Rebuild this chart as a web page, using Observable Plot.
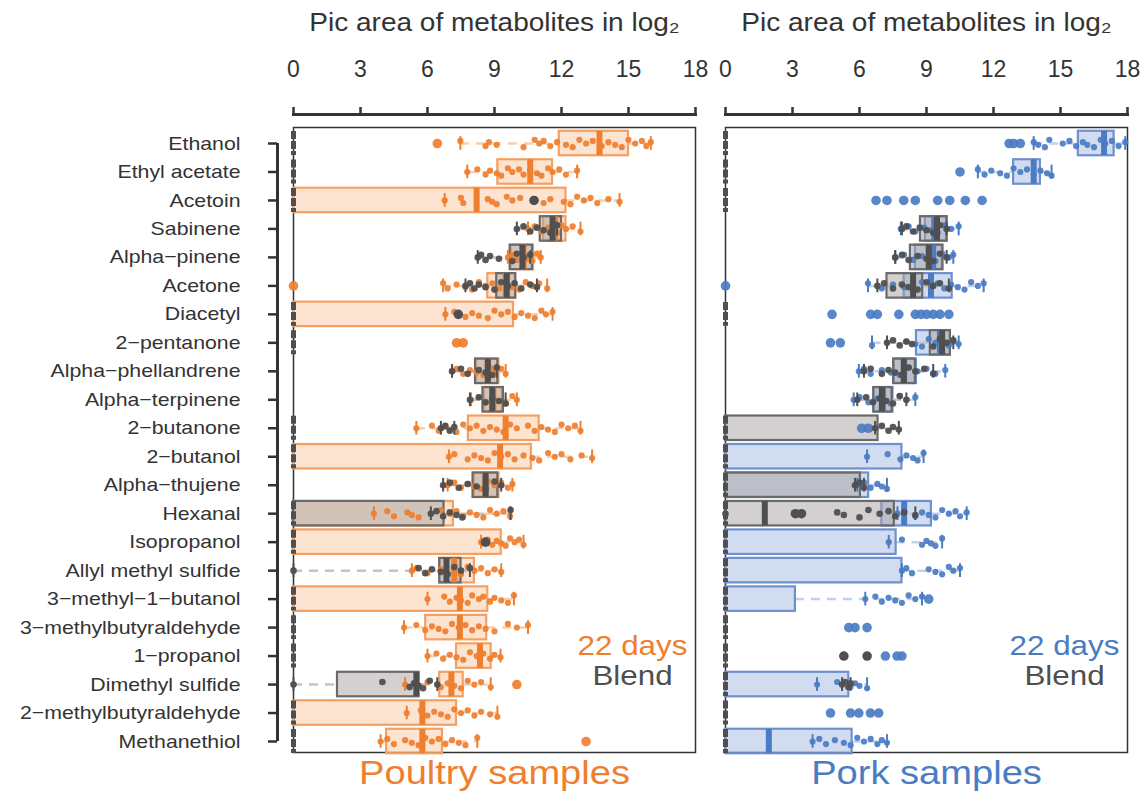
<!DOCTYPE html>
<html><head><meta charset="utf-8">
<script src="https://cdn.jsdelivr.net/npm/d3@7"></script>
<script src="https://cdn.jsdelivr.net/npm/@observablehq/plot@0.6"></script>
<style>
html,body{margin:0;padding:0;background:#fff;}
#wrap{position:relative;width:1145px;height:796px;overflow:hidden;}
#left{position:absolute;left:0;top:0;}
#right{position:absolute;left:710px;top:0;}
</style></head><body>
<div id="wrap"><div id="left"></div><div id="right"></div></div>
<script>
const metabolites = ["Ethanol","Ethyl acetate","Acetoin","Sabinene","Alpha\u2212pinene","Acetone","Diacetyl","2\u2212pentanone","Alpha\u2212phellandrene","Alpha\u2212terpinene","2\u2212butanone","2\u2212butanol","Alpha\u2212thujene","Hexanal","Isopropanol","Allyl methyl sulfide","3\u2212methyl\u22121\u2212butanol","3\u2212methylbutyraldehyde","1\u2212propanol","Dimethyl sulfide","2\u2212methylbutyraldehyde","Methanethiol"];
const xTicks = [0, 3, 6, 9, 12, 15, 18];
const axisTitle = "Pic area of metabolites in log\u2082";
const groupLabels = ["22 days", "Blend"];
const panelLabels = ["Poultry samples", "Pork samples"];

// Poultry, 22 days (box stats)
const poultryDaysQ1  = [11.9, 9.15, 0, 11.2, 9.75, 8.7, 0, null, 8.2, 8.55, 7.83, 0, 8.1, 0, 0, 6.55, 0, 5.92, 7.3, 6.55, 0, 4.17];
const poultryDaysMed = [13.7, 10.6, 8.2, 11.7, 10.3, 9.5, null, null, 8.7, 8.95, 9.5, 9.25, 8.6, null, null, 7.2, 7.45, 7.45, 8.35, 7.07, 5.77, 5.77];
const poultryDaysQ3  = [15.0, 11.6, 12.2, 12.2, 10.75, 9.95, 9.85, null, 9.2, 9.35, 11.0, 10.65, 9.2, 7.16, 9.3, 8.1, 8.7, 8.65, 8.85, 7.6, 7.3, 6.67];
// Poultry, Blend
const poultryBlendQ1  = [null, null, null, 11.05, 9.7, 9.1, null, null, 8.15, 8.48, null, null, 8.04, 0, null, 6.55, null, null, null, 1.97, null, null];
const poultryBlendMed = [null, null, null, 11.6, 10.25, 9.55, null, null, 8.7, 8.9, null, null, 8.6, null, null, 6.85, null, null, null, 5.5, null, null];
const poultryBlendQ3  = [null, null, null, 12.0, 10.7, 9.95, null, null, 9.15, 9.4, null, null, 9.15, 6.74, null, 7.5, null, null, null, 5.62, null, null];
// Poultry points ("*" = large marker)
const poultryDaysPts = [
 "6.44* 7.47 8.6 8.75 9.1 10.3 10.8 11.0 11.2 11.5 11.8 12.2 12.5 12.8 13.1 13.4 13.8 14.1 14.4 14.7 15.0 15.3 15.6 15.8 16.0",
 "7.78 8.23 8.6 8.8 9.1 9.3 9.6 9.8 10.1 10.3 10.6 10.9 11.1 11.4 11.6 11.9 12.2 12.7",
 "6.77 7.5 7.6 8.7 8.9 9.1 9.55 9.8 10.15 11.2 11.5 12.1 12.4 12.7 13.0 13.3 13.6 14.1 14.6",
 "10.5 10.8 11.1 11.4 11.6 11.8 12.0 12.2 12.5 12.85",
 "9.6 9.8 10.0 10.3 10.5 10.7 10.9 11.07",
 "0* 6.7 6.9 7.3 7.7 8.0 8.3 8.6 8.9 9.2 9.5 9.8 10.1 10.4 10.7 11.0 11.36",
 "6.8 7.2 7.7 8.0 8.3 8.7 9.0 9.3 9.6 9.9 10.2 10.5 10.8 11.1 11.3 11.6",
 "7.3* 7.6*",
 "7.1 7.3 7.6 7.9 8.2 8.5 8.8 9.0 9.3 9.5",
 "7.95 8.3 8.6 8.9 9.2 9.5 9.8 10.0",
 "5.5 6.2 6.5 6.8 7.0 7.3 7.6 7.9 8.2 8.5 8.8 9.1 9.4 9.7 10.0 10.5 10.8 11.1 11.4 11.7 12.0 12.3 12.6 12.85",
 "6.96 7.2 7.8 8.1 8.4 8.7 9.0 9.3 9.6 9.9 10.3 10.7 11.0 11.4 11.7 12.0 12.4 12.9 13.37",
 "6.9 7.2 7.5 7.8 8.1 8.4 8.7 9.0 9.3 9.6 9.8",
 "3.6 4.2 4.5 5.1 5.3 5.6 6.6 7.0 7.3 7.6 7.9 8.2 8.5 8.8 9.1 9.4 9.7",
 "8.4 8.7 8.9 9.1 9.3 9.5 9.7 9.9 10.1 10.3",
 "5.3 5.5 6.0 6.6 7.2 7.5 7.8 8.1 8.4 8.7 9.0 9.3",
 "6.0 6.75 7.0 7.3 7.5 7.8 8.0 8.3 8.5 8.8 9.0 9.3 9.6 9.87",
 "4.95 5.5 5.9 6.2 6.5 6.8 7.1 7.4 7.7 8.0 8.3 8.6 9.0 9.6 10.0 10.5",
 "6.0 6.4 6.7 7.0 7.3 7.6 7.9 8.2 8.5 8.8 9.0 9.27",
 "5.0 6.0 6.6 6.9 7.2 7.5 7.8 8.1 8.4 8.83 10.0*",
 "5.07 5.7 6.0 6.3 6.6 6.9 7.2 7.5 7.8 8.1 8.4 8.8 9.13",
 "3.9 4.2 4.5 5.0 5.3 5.6 5.9 6.2 6.5 6.8 7.1 7.4 7.7 8.23 13.1*"
];
const poultryBlendPts = [
 "", "", "10.77*",
 "10.0 10.3 10.6 10.9 11.2 11.5 11.8",
 "8.25 8.4 8.6 8.8 9.2 9.8 10.0 10.3 10.6",
 "7.7 7.9 8.1 8.3 8.6 9.0 9.3 9.6 9.9 10.2 10.6 10.9",
 "7.38*", "",
 "7.1 7.5 7.8 8.3 8.6 8.9 9.1",
 "7.9 8.3 8.6 8.9 9.2 9.5",
 "6.6 6.8 7.0 7.2", "",
 "6.7 7.0 7.4 7.8 8.2 8.6 9.0 9.3",
 "6.15 6.4 6.7 7.0 7.3 7.56 9.72",
 "8.6*",
 "0 5.6 5.9 6.2 6.6 6.9 7.2 7.5 7.9",
 "", "", "",
 "0 3.98 5.2 5.4 5.6 5.8 6.1 6.44",
 "", ""
];
const poultryZeroRows = [0, 1, 2, 6, 7, 10, 11, 13, 14, 16, 17, 18, 20, 21];

// Pork, 22 days (box stats)
const porkDaysQ1  = [15.8, 12.9, null, 8.95, 8.5, 8.0, null, 8.55, 7.55, 6.65, null, 0, 0, 7.0, 0, 0, 0, null, null, 0, null, 0];
const porkDaysMed = [16.95, 13.8, null, 9.35, 9.3, 9.2, null, 9.6, 8.0, 7.05, null, null, null, 8.0, null, null, null, null, null, null, null, 1.94];
const porkDaysQ3  = [17.4, 14.1, null, 9.92, 9.7, 10.15, null, 10.07, 8.55, 7.5, null, 7.9, 6.41, 9.22, 7.64, 7.9, 3.13, null, null, 5.52, null, 5.67];
// Pork, Blend
const porkBlendQ1  = [null, null, null, 8.73, 8.28, 7.23, null, 9.17, 7.53, 6.64, 0, null, 0, 0, null, null, null, null, null, null, null, null];
const porkBlendMed = [null, null, null, 9.47, 9.1, 8.4, null, 9.7, 7.98, 7.0, null, null, null, 1.76, null, null, null, null, null, null, null, null];
const porkBlendQ3  = [null, null, null, 9.92, 9.74, 8.83, null, 10.07, 8.5, 7.46, 6.83, null, 6.04, 7.56, null, null, null, null, null, null, null, null];
const porkDaysPts = [
 "12.7* 12.9* 13.2* 13.8 14.0 14.3 14.5 15.1 15.4 15.7 16.0 16.2 16.5 16.8 17.0 17.3 17.6 17.9",
 "10.5* 11.3 11.6 11.9 12.3 12.6 12.9 13.2 13.5 13.8 14.1 14.4 14.6",
 "6.74* 7.23* 7.98* 8.5* 9.5* 10.04* 10.74* 11.49*",
 "7.85 8.2 8.5 8.9 9.2 9.5 9.8 10.1 10.44",
 "7.6 8.0 8.4 8.8 9.1 9.4 9.7 10.0 10.2",
 "0* 6.38 7.0 7.5 8.0 8.4 8.8 9.2 9.5 9.8 10.1 10.4 10.7 11.0 11.3 11.56",
 "4.77* 6.5* 6.8* 7.76* 8.5* 8.75* 9.0* 9.3* 9.6* 10.0*",
 "4.7* 5.14* 6.56 8.1 8.5 8.8 9.1 9.4 9.7 10.0 10.2 10.44",
 "5.97 6.2 6.5 7.0 7.4 7.8 8.2 8.6 9.0 9.4 9.84",
 "5.74 6.0 6.4 6.8 7.1 7.4 7.8 8.1 8.5",
 "6.1* 6.4*",
 "6.34 7.26 7.83 8.1 8.4 8.6 8.87",
 "5.9 6.2 6.5 6.8 7.0 7.23",
 "7.7 8.0 8.5 8.8 9.1 9.4 9.7 10.0 10.3 10.5 10.8",
 "7.31 7.9 8.8 9.0 9.2 9.4 9.7",
 "7.9 8.1 8.35 9.1 9.4 9.7 10.0 10.2 10.5",
 "6.26 6.71 7.0 7.3 7.6 7.9 8.2 8.5 8.8 9.1*",
 "5.52* 5.8* 6.34*",
 "7.16* 7.68* 7.9*",
 "4.1 5.0 5.6 5.8 6.0 6.34",
 "4.7* 5.6* 5.97* 6.49* 6.86*",
 "3.9 4.2 4.5 4.9 5.3 5.6 5.9 6.2 6.5 6.8 7.0 7.23"
];
const porkBlendPts = [
 "", "", "",
 "7.9 8.1 8.4 8.7 9.0 9.3 9.6 9.9",
 "7.6 7.9 8.2 8.6 9.0 9.3 9.6 9.9",
 "6.8 7.1 7.5 7.9 8.2 8.6 9.0 9.3 9.6 10.0",
 "",
 "7.23 7.5 7.8 8.1 8.35 9.3 9.6 9.9 10.2",
 "6.2 6.5 7.0 7.3 7.6 7.9 8.2 8.5 8.9 9.3",
 "5.9 6.3 6.6 6.9 7.2 7.5 7.8 8.1",
 "6.7 7.0 7.3 7.5 7.76",
 "",
 "5.8 6.0 6.2",
 "0 3.13* 3.4* 5.0 5.3 6.0 6.4 6.9 7.3 7.6 8.0 8.5",
 "", "", "", "",
 "5.3* 6.34*",
 "5.22 5.35 5.5 5.6",
 "", ""
];
const porkZeroRows = [0, 1, 2, 6, 10, 11, 12, 13, 14, 15, 16, 17, 18, 19, 20, 21];

const C = {
  orange: "#ef7e2e", blue: "#4a7cc3", dark: "#4f4f4f", text: "#333333",
  orangeFill: "#f9b27a", blueFill: "#7d9ad6", grayFill: "#a7a1a0",
  orangeStroke: "#f4a062", blueStroke: "#6e90cf", grayStroke: "#6a6a6a",
  orangeWhisk: "#f6cfb0", blueWhisk: "#c3d0ea", grayWhisk: "#c4c4c4"
};
const FONT = "'Liberation Sans', Arial, Helvetica, sans-serif";
const jitter = [0, -0.09, 0.09, -0.045, 0.045, 0.13, -0.13];
const H = 0.43;
const STRETCH = 1.12;

function parsePts(strs) {
  const out = [];
  strs.forEach((s, i) => {
    s.split(/\s+/).filter(t => t).forEach((t, k) => {
      out.push({i, v: parseFloat(t), big: t.endsWith("*"), j: jitter[k % jitter.length]});
    });
  });
  return out;
}
function boxes(q1, med, q3) {
  return metabolites.map((m, i) => ({i, q1: q1[i], med: med[i], q3: q3[i]})).filter(d => d.q1 != null);
}
function whiskers(strs, q1, q3) {
  const segs = [], caps = [];
  strs.forEach((s, i) => {
    const vals = s.split(/\s+/).filter(t => t && !t.endsWith("*")).map(Number);
    if (vals.length < 2) return;
    const lo = d3.min(vals), hi = d3.max(vals);
    if (q1[i] != null) {
      if (lo < q1[i]) segs.push({i, a: lo, b: q1[i]});
      if (hi > q3[i]) segs.push({i, a: q3[i], b: hi});
    } else segs.push({i, a: lo, b: hi});
    caps.push({i, v: lo}, {i, v: hi});
  });
  return {segs, caps};
}

function panel(o) {
  const dBox = boxes(o.dQ1, o.dMed, o.dQ3), bBox = boxes(o.bQ1, o.bMed, o.bQ3);
  const dPts = parsePts(o.dPts), bPts = parsePts(o.bPts);
  const dW = whiskers(o.dPts, o.dQ1, o.dQ3), bW = whiskers(o.bPts, o.bQ1, o.bQ3);
  const rows = d3.range(metabolites.length);
  const marks = [
    Plot.frame({insetTop: 13, stroke: C.text, strokeWidth: 1.5}),
    Plot.frame({anchor: "top", stroke: C.text, strokeWidth: 3}),
    Plot.axisX({anchor: "top", ticks: xTicks, tickSize: 8, tickPadding: 30, fontSize: 23, label: null, strokeWidth: 2.5, stroke: C.text}),
    Plot.text([axisTitle], {frameAnchor: "top", dy: -101, fontSize: 25, fill: C.text}),
    Plot.ruleY(dW.segs, {y: "i", x1: "a", x2: "b", stroke: o.whisk, strokeWidth: 2.5, strokeDasharray: "9,7"}),
    Plot.rect(dBox, {x1: "q1", x2: "q3", y1: d => d.i - H, y2: d => d.i + H, fill: o.fill, fillOpacity: 0.35, stroke: o.stroke, strokeWidth: 2.2}),
    Plot.ruleY(bW.segs, {y: "i", x1: "a", x2: "b", stroke: C.grayWhisk, strokeWidth: 2.5, strokeDasharray: "9,7"}),
    Plot.rect(bBox, {x1: "q1", x2: "q3", y1: d => d.i - H, y2: d => d.i + H, fill: C.grayFill, fillOpacity: 0.5, stroke: C.grayStroke, strokeWidth: 2.2}),
    Plot.ruleX(o.zeros, {x: 0, y1: d => d - 0.42, y2: d => d + 0.42, stroke: C.dark, strokeWidth: 5, strokeDasharray: "8,2"}),
    Plot.ruleX(dW.caps, {x: "v", y1: d => d.i - 0.24, y2: d => d.i + 0.24, stroke: o.color, strokeWidth: 2}),
    Plot.dot(dPts.filter(d => !d.big), {x: "v", y: d => d.i + d.j, r: 3.1, fill: o.color, fillOpacity: 0.92}),
    Plot.dot(dPts.filter(d => d.big), {x: "v", y: "i", r: 4.8, fill: o.color, fillOpacity: 0.92}),
    Plot.ruleX(dBox.filter(d => d.med != null), {x: "med", y1: d => d.i - H, y2: d => d.i + H, stroke: o.color, strokeWidth: 6}),
    Plot.ruleX(bW.caps, {x: "v", y1: d => d.i - 0.24, y2: d => d.i + 0.24, stroke: C.dark, strokeWidth: 2}),
    Plot.dot(bPts.filter(d => !d.big), {x: "v", y: d => d.i + d.j, r: 3.3, fill: C.dark, fillOpacity: 0.95}),
    Plot.dot(bPts.filter(d => d.big), {x: "v", y: "i", r: 4.8, fill: C.dark}),
    Plot.ruleX(bBox.filter(d => d.med != null), {x: "med", y1: d => d.i - H, y2: d => d.i + H, stroke: C.dark, strokeWidth: 6}),
    Plot.text([groupLabels[0]], {frameAnchor: "bottom-right", dx: -63, dy: -98, textAnchor: "middle", fill: o.color, fontSize: 28}),
    Plot.text([groupLabels[1]], {frameAnchor: "bottom-right", dx: -63, dy: -68, textAnchor: "middle", fill: C.dark, fontSize: 28}),
    Plot.text([o.label], {frameAnchor: "bottom", dy: 31, fill: o.color, fontSize: 34})
  ];
  if (o.showY) {
    marks.push(
      Plot.ruleX([0], {x: d => d, y1: 0, y2: rows.length - 1, dx: -16, stroke: C.text, strokeWidth: 3}),
      Plot.axisY({anchor: "left", ticks: rows, tickFormat: i => metabolites[i], tickSize: 9, tickPadding: 28, dx: -16, fontSize: 19, label: null, strokeWidth: 2.5, stroke: C.text})
    );
  }
  return Plot.plot({
    width: o.width, height: 796,
    marginLeft: o.ml, marginRight: o.mr, marginTop: 114, marginBottom: 44,
    x: {domain: [0, 18]},
    y: o.showY ? {domain: [0, 21], range: [143, 741]} : {domain: [0, 21], range: [143, 741], axis: null},
    style: {fontFamily: FONT, color: C.text, background: "transparent", overflow: "visible"},
    marks
  });
}

function stretchTexts(svg, f) {
  d3.select(svg).selectAll("text").each(function() {
    const t = this.textContent;
    if (/^[0-9]+$/.test(t)) return;
    const L = this.getComputedTextLength();
    this.setAttribute("textLength", (L * f).toFixed(1));
    this.setAttribute("lengthAdjust", "spacingAndGlyphs");
  });
}

const leftSvg = panel({
  dQ1: poultryDaysQ1, dMed: poultryDaysMed, dQ3: poultryDaysQ3,
  bQ1: poultryBlendQ1, bMed: poultryBlendMed, bQ3: poultryBlendQ3,
  dPts: poultryDaysPts, bPts: poultryBlendPts, zeros: poultryZeroRows,
  color: C.orange, fill: C.orangeFill, stroke: C.orangeStroke, whisk: C.orangeWhisk,
  label: panelLabels[0], width: 710, ml: 293, mr: 15, showY: true
});
const rightSvg = panel({
  dQ1: porkDaysQ1, dMed: porkDaysMed, dQ3: porkDaysQ3,
  bQ1: porkBlendQ1, bMed: porkBlendMed, bQ3: porkBlendQ3,
  dPts: porkDaysPts, bPts: porkBlendPts, zeros: porkZeroRows,
  color: C.blue, fill: C.blueFill, stroke: C.blueStroke, whisk: C.blueWhisk,
  label: panelLabels[1], width: 435, ml: 15, mr: 18, showY: false
});
document.getElementById("left").append(leftSvg);
document.getElementById("right").append(rightSvg);
stretchTexts(leftSvg, STRETCH);
stretchTexts(rightSvg, STRETCH);
</script>
</body></html>
